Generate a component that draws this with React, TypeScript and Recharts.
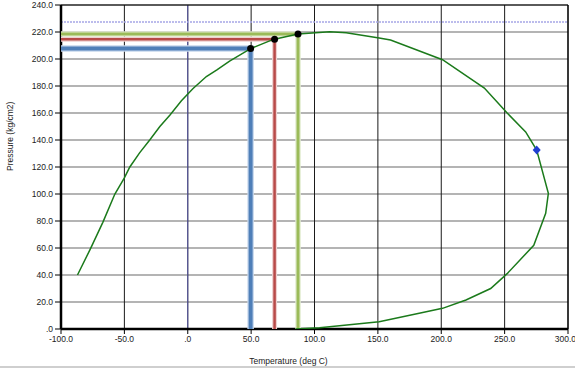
import React from 'react';
import {
  ComposedChart,
  Scatter,
  XAxis,
  YAxis,
  CartesianGrid,
  ReferenceLine,
} from 'recharts';

// Phase envelope (temperature deg C, pressure kg/cm2)
const envelopeT = [-87, -77, -67, -57.5, -50, -45.7, -38, -30, -22, -14, -5, 4, 14.7, 23, 33, 49.6, 67.5, 87, 112, 125, 151, 160, 201, 234, 252, 266.6, 275.3, 284.5, 282.4, 273, 252, 239, 219.5, 201, 182.6, 151, 104, 85];
const envelopeP = [40, 59, 79, 100, 112, 120, 130.5, 140, 150, 158.5, 169, 178, 187, 192, 198.5, 207.7, 214.5, 218.5, 220.2, 219.5, 215.5, 214, 199.5, 178.5, 160, 146, 132.6, 100.5, 85.7, 62, 41, 30, 21.5, 15.3, 11.6, 5.4, 1, 0];

// Operating points dropped to the axes
const pointNames = ['blue', 'red', 'green'];
const pointT = [49.6, 68.5, 87];
const pointP = [207.7, 214.6, 218.6];
const pointColors = ['#4f7fb8', '#b84a48', '#9bbb59'];
const haloColors = ['#c6d7ec', '#eed0cf', '#e2ecd0'];
const pointWidths = [4, 2.5, 3];

// Cricondentherm marker and critical pressure line
const markerT = [275.3];
const markerP = [132.6];
const criticalP = 227.5;

const xTicks = [-100, -50, 0, 50, 100, 150, 200, 250, 300];
const yTicks = [0, 20, 40, 60, 80, 100, 120, 140, 160, 180, 200, 220, 240];

const envelope = envelopeT.map((x, i) => ({ x, y: envelopeP[i] }));
const markers = markerT.map((x, i) => ({ x, y: markerP[i] }));
const dots = pointT.map((x, i) => ({ x, y: pointP[i] }));
const legs = pointT.map((x, i) => [
  { x: -100, y: pointP[i] },
  { x, y: pointP[i] },
  { x, y: 0 },
]);

const fmt = (v: number) => (v === 0 ? '.0' : v.toFixed(1));
const NoShape = () => <g />;
const font = '"Liberation Sans", Arial, sans-serif';
const tick = { fill: '#222', fontSize: 8.5, fontFamily: font };

export default function App() {
  return (
    <div style={{ position: 'absolute', left: 0, top: 0, width: 575, height: 370, background: '#fff' }}>
      <ComposedChart width={575} height={370} margin={{ top: 5, right: 7, bottom: 0, left: 0 }}>
        <CartesianGrid vertical={false} stroke="#6a6a6a" strokeWidth={1.2} />
        <CartesianGrid horizontal={false} stroke="#1a1a1a" strokeWidth={1} />
        <XAxis
          type="number"
          dataKey="x"
          domain={[-100, 300]}
          ticks={xTicks}
          tickFormatter={fmt}
          tick={tick}
          tickSize={5}
          tickMargin={2}
          height={41}
          stroke="#000"
          axisLine={{ stroke: '#000', strokeWidth: 2.5 }}
          allowDataOverflow
          label={{ value: 'Temperature (deg C)', position: 'insideBottom', offset: 6, dx: -26, fill: '#222', fontSize: 8.5, fontFamily: font }}
        />
        <YAxis
          type="number"
          dataKey="y"
          domain={[0, 240]}
          ticks={yTicks}
          tickFormatter={fmt}
          tick={tick}
          tickSize={6}
          tickMargin={2}
          width={61}
          stroke="#000"
          axisLine={{ stroke: '#000', strokeWidth: 2.5 }}
          allowDataOverflow
          label={{ value: 'Pressure (kg/cm2)', angle: -90, position: 'insideLeft', offset: 10, dy: 4, fill: '#222', fontSize: 8.5, fontFamily: font }}
        />
        <ReferenceLine x={0} stroke="#5a5aa8" strokeWidth={1} />
        <ReferenceLine y={240} stroke="#000" strokeWidth={1.2} />
        <ReferenceLine x={300} stroke="#000" strokeWidth={1.2} />
        <ReferenceLine y={criticalP} stroke="#a6a6e6" strokeWidth={1.5} strokeDasharray="2 1" />
        {legs.map((leg, i) => (
          <Scatter
            key={'halo-' + pointNames[i]}
            data={leg}
            line={{ stroke: haloColors[i], strokeWidth: pointWidths[i] + 2.5 }}
            shape={NoShape}
            isAnimationActive={false}
          />
        ))}
        {legs.map((leg, i) => (
          <Scatter
            key={'leg-' + pointNames[i]}
            data={leg}
            line={{ stroke: pointColors[i], strokeWidth: pointWidths[i] }}
            shape={NoShape}
            isAnimationActive={false}
          />
        ))}
        <Scatter
          data={envelope}
          line={{ stroke: '#1b7a1b', strokeWidth: 1.5 }}
          shape={NoShape}
          isAnimationActive={false}
        />
        <Scatter
          data={dots}
          fill="#000"
          shape={(p: any) => <circle cx={p.cx} cy={p.cy} r={3.5} fill="#000" />}
          isAnimationActive={false}
        />
        <Scatter
          data={markers}
          fill="#1f3fd0"
          shape={(p: any) => (
            <path
              d={`M${p.cx},${p.cy - 4.5}L${p.cx + 4},${p.cy}L${p.cx},${p.cy + 4.5}L${p.cx - 4},${p.cy}Z`}
              fill="#1f3fd0"
            />
          )}
          isAnimationActive={false}
        />
      </ComposedChart>
      <div style={{ position: 'absolute', left: 0, top: 366, width: 575, height: 2, background: '#cfcfcf' }} />
    </div>
  );
}
